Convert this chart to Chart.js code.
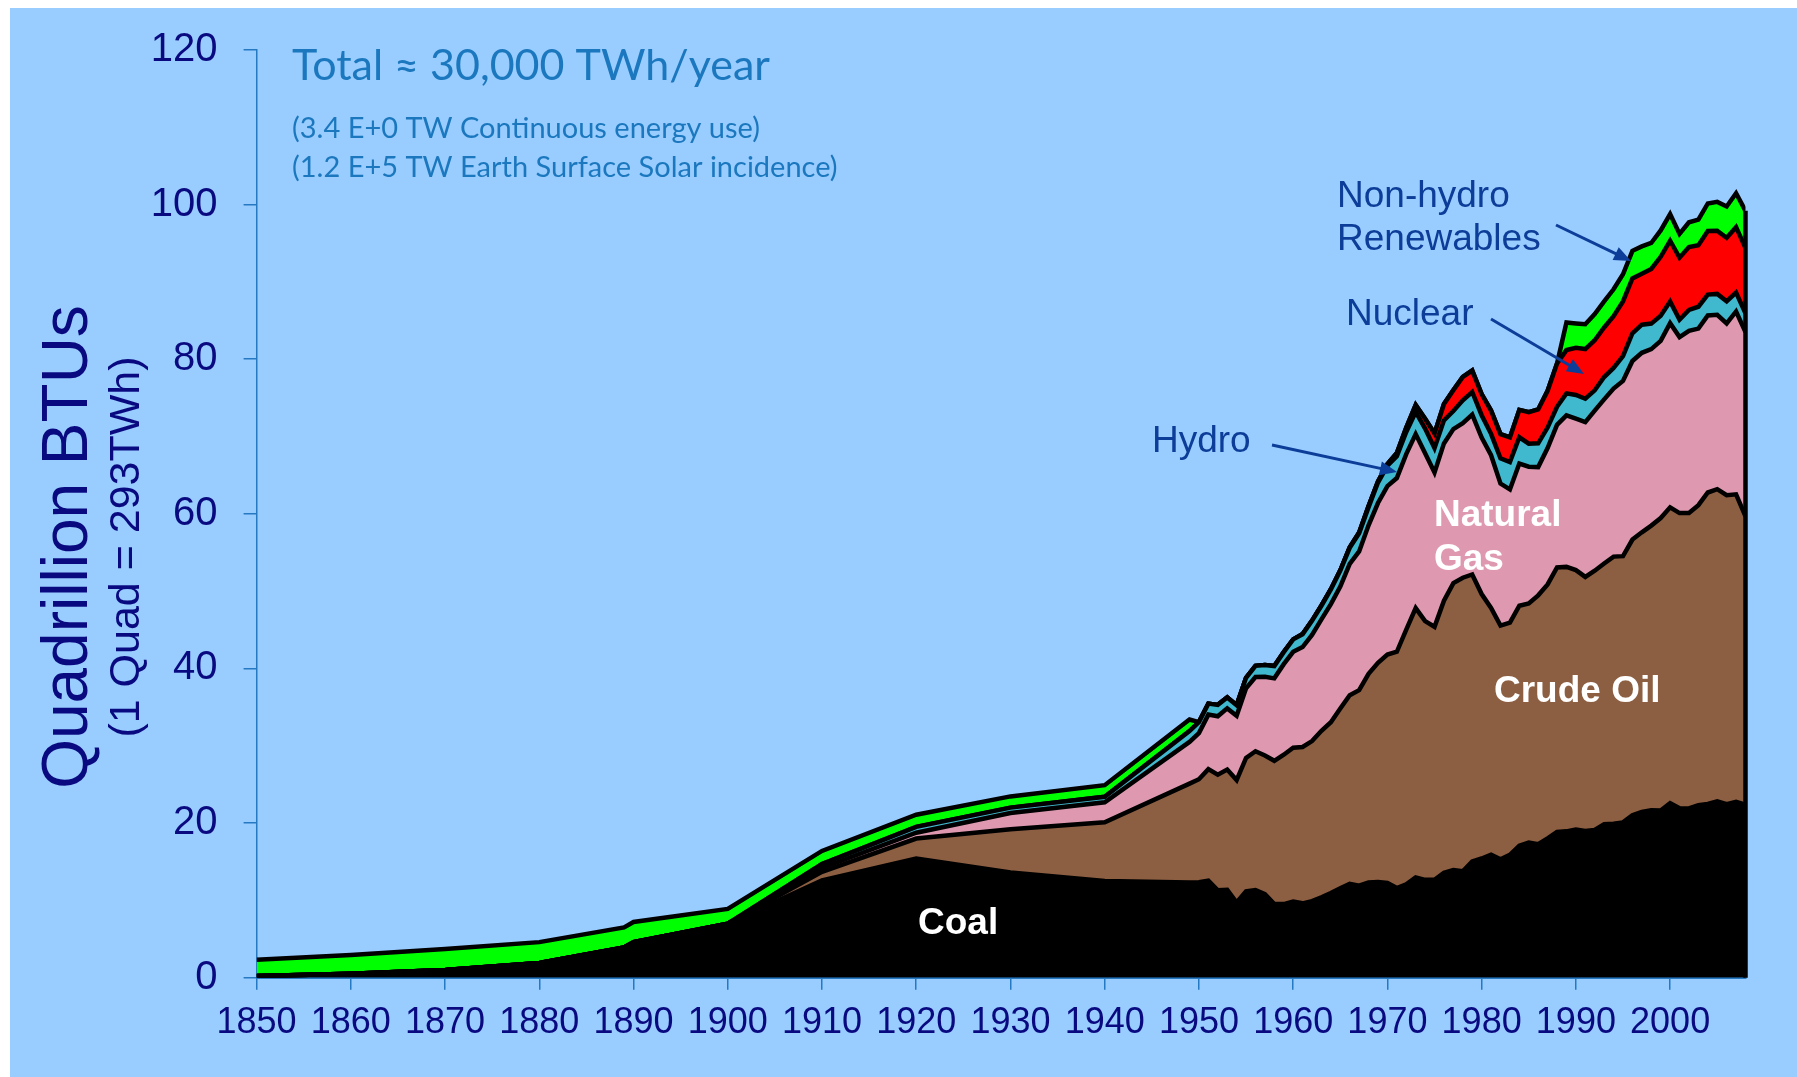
<!DOCTYPE html>
<html>
<head>
<meta charset="utf-8">
<script src="https://cdn.jsdelivr.net/npm/chart.js@4.4.1/dist/chart.umd.min.js"></script>
<style>
html, body { margin: 0; padding: 0; background: #fff; }
canvas { display: block; }
</style>
</head>
<body>
<canvas id="myChart" width="1797" height="1077"></canvas>
<script>
// years on the x axis (decades before 1949, yearly after)
const years = [1850, 1860, 1870, 1880, 1889, 1890, 1900, 1910, 1920, 1930, 1940, 1949,
  1950, 1951, 1952, 1953, 1954, 1955, 1956, 1957, 1958, 1959,
  1960, 1961, 1962, 1963, 1964, 1965, 1966, 1967, 1968, 1969,
  1970, 1971, 1972, 1973, 1974, 1975, 1976, 1977, 1978, 1979,
  1980, 1981, 1982, 1983, 1984, 1985, 1986, 1987, 1988, 1989,
  1990, 1991, 1992, 1993, 1994, 1995, 1996, 1997, 1998, 1999,
  2000, 2001, 2002, 2003, 2004, 2005, 2006, 2007, 2008];

// quadrillion BTU per source
const coal = [0.22, 0.5, 1.0, 1.9, 3.9, 4.6, 7.0, 12.6, 15.4, 13.6, 12.5, 12.3,
  12.35, 12.55, 11.31, 11.37, 9.72, 11.17, 11.35, 10.82, 9.53, 9.52,
  9.84, 9.62, 9.91, 10.41, 10.96, 11.58, 12.14, 11.91, 12.33, 12.38,
  12.27, 11.60, 12.08, 12.97, 12.66, 12.66, 13.58, 13.92, 13.77, 15.04,
  15.42, 15.91, 15.32, 15.89, 17.07, 17.48, 17.26, 18.01, 18.85, 18.93,
  19.17, 18.99, 19.12, 19.84, 19.91, 20.09, 21.00, 21.45, 21.66, 21.62,
  22.58, 21.91, 21.90, 22.32, 22.47, 22.80, 22.45, 22.75, 22.39];

const oil = [0, 0, 0, 0, 0, 0, 0, 1.1, 2.6, 5.6, 7.6, 12.8,
  13.32, 14.43, 14.96, 15.56, 15.84, 17.26, 17.94, 17.93, 18.53, 19.32,
  19.92, 20.22, 20.70, 21.53, 22.08, 23.25, 24.40, 25.28, 26.98, 28.34,
  29.52, 30.56, 32.95, 34.84, 33.46, 32.73, 35.18, 37.12, 37.97, 37.12,
  34.20, 31.93, 30.23, 30.05, 31.05, 30.92, 32.20, 32.87, 34.22, 34.21,
  33.55, 32.85, 33.53, 33.74, 34.56, 34.44, 35.68, 36.16, 36.82, 37.84,
  38.26, 38.19, 38.22, 38.81, 40.29, 40.39, 39.96, 39.77, 37.28];

const gas = [0, 0, 0, 0, 0, 0, 0, 0.5, 0.75, 2.1, 2.6, 5.4,
  5.97, 7.05, 7.55, 7.91, 8.33, 9.00, 9.61, 10.19, 10.66, 11.72,
  12.39, 12.93, 13.73, 14.40, 15.29, 15.77, 17.00, 17.95, 19.21, 20.68,
  21.80, 22.47, 22.70, 22.51, 21.73, 19.95, 20.35, 19.93, 20.00, 20.67,
  20.24, 19.75, 18.36, 17.22, 18.39, 17.70, 16.59, 17.64, 18.45, 19.60,
  19.60, 20.03, 20.71, 21.23, 21.73, 22.67, 23.09, 23.22, 22.83, 22.91,
  23.82, 22.77, 23.56, 22.83, 22.91, 22.56, 22.22, 23.66, 23.83];

const hydro = [0, 0, 0, 0, 0, 0, 0, 0.5, 0.76, 0.7, 0.7, 1.4,
  1.42, 1.42, 1.47, 1.41, 1.36, 1.36, 1.44, 1.52, 1.59, 1.55,
  1.61, 1.66, 1.82, 1.77, 1.89, 2.06, 2.06, 2.35, 2.35, 2.65,
  2.63, 2.82, 2.86, 2.86, 3.18, 3.16, 2.98, 2.33, 2.94, 2.93,
  2.90, 2.76, 3.27, 3.53, 3.39, 2.97, 3.07, 2.64, 2.33, 2.84,
  3.05, 3.02, 2.62, 2.89, 2.68, 3.21, 3.59, 3.64, 3.30, 3.27,
  2.81, 2.24, 2.69, 2.83, 2.69, 2.70, 2.87, 2.45, 2.45];

const nuclear = [0, 0, 0, 0, 0, 0, 0, 0, 0, 0, 0, 0,
  0, 0, 0, 0, 0, 0, 0, 0, 0.002, 0.002,
  0.006, 0.02, 0.026, 0.038, 0.04, 0.043, 0.064, 0.088, 0.142, 0.154,
  0.239, 0.413, 0.584, 0.910, 1.272, 1.900, 2.111, 2.702, 3.024, 2.776,
  2.739, 3.008, 3.131, 3.203, 3.553, 4.076, 4.380, 4.754, 5.587, 5.602,
  6.104, 6.422, 6.479, 6.410, 6.694, 7.075, 7.087, 6.597, 7.068, 7.610,
  7.862, 8.029, 8.145, 7.959, 8.222, 8.161, 8.215, 8.455, 8.427];

const renewables = [2.1, 2.45, 2.7, 2.7, 2.6, 2.6, 1.9, 1.7, 1.57, 1.45, 1.5, 1.5,
  0, 0, 0, 0, 0, 0, 0, 0, 0, 0,
  0, 0, 0, 0, 0, 0, 0, 0, 0, 0,
  0, 0, 0, 0, 0, 0, 0, 0, 0, 0,
  0, 0, 0, 0, 0, 0, 0, 0, 0, 3.58,
  3.16, 3.22, 3.38, 3.37, 3.47, 3.50, 3.58, 3.53, 3.36, 3.41,
  3.45, 3.07, 3.20, 3.32, 3.57, 3.74, 4.05, 4.39, 4.82];

const xTicks = [1850, 1860, 1870, 1880, 1890, 1900, 1910, 1920, 1930, 1940, 1950, 1960, 1970, 1980, 1990, 2000];

const AXIS_BLUE = '#2479C2';
const NAVY = '#0A0A80';
const NOTE_BLUE = '#0C3D98';

function area(label, values, color, fill) {
  return {
    label: label,
    data: values,
    backgroundColor: color,
    borderColor: '#000000',
    borderWidth: 4.5,
    borderJoinStyle: 'miter',
    pointRadius: 0,
    tension: 0,
    fill: fill
  };
}

function arrow(ctx, x1, y1, x2, y2) {
  const a = Math.atan2(y2 - y1, x2 - x1);
  const len = 17, half = 7;
  ctx.beginPath();
  ctx.moveTo(x1, y1);
  ctx.lineTo(x2 - len * 0.8 * Math.cos(a), y2 - len * 0.8 * Math.sin(a));
  ctx.stroke();
  ctx.beginPath();
  ctx.moveTo(x2, y2);
  ctx.lineTo(x2 - len * Math.cos(a) + half * Math.sin(a), y2 - len * Math.sin(a) - half * Math.cos(a));
  ctx.lineTo(x2 - len * Math.cos(a) - half * Math.sin(a), y2 - len * Math.sin(a) + half * Math.cos(a));
  ctx.closePath();
  ctx.fill();
}

const decor = {
  id: 'decor',
  beforeDraw(chart) {
    const ctx = chart.ctx;
    ctx.save();
    ctx.fillStyle = '#ffffff';
    ctx.fillRect(0, 0, chart.width, chart.height);
    ctx.fillStyle = '#99CCFF';
    ctx.fillRect(10, 8, chart.width - 10, chart.height - 8);
    ctx.restore();
  },
  afterDatasetsDraw(chart) {
    const ctx = chart.ctx;
    const x = chart.scales.x, y = chart.scales.y;
    const last = years.length - 1;
    const total = coal[last] + oil[last] + gas[last] + hydro[last] + nuclear[last] + renewables[last];
    const xe = x.getPixelForValue(years[last]);

    ctx.save();
    // closing edge of the stacked areas
    ctx.strokeStyle = '#000000';
    ctx.lineWidth = 4.5;
    ctx.beginPath();
    ctx.moveTo(xe, y.getPixelForValue(total));
    ctx.lineTo(xe, y.getPixelForValue(0));
    ctx.stroke();

    // labels inside the areas
    ctx.fillStyle = '#ffffff';
    ctx.font = 'bold 37px "Liberation Sans", Arial, sans-serif';
    ctx.textBaseline = 'alphabetic';
    ctx.textAlign = 'left';
    ctx.fillText('Coal', 918, 934);
    ctx.fillText('Natural', 1434, 526);
    ctx.fillText('Gas', 1434, 570);
    ctx.fillText('Crude Oil', 1494, 702);

    // callouts
    ctx.fillStyle = NOTE_BLUE;
    ctx.strokeStyle = NOTE_BLUE;
    ctx.font = '37px "Liberation Sans", Arial, sans-serif';
    ctx.fillText('Non-hydro', 1337, 207);
    ctx.fillText('Renewables', 1337, 250);
    ctx.fillText('Nuclear', 1346, 325);
    ctx.fillText('Hydro', 1152, 452);
    ctx.lineWidth = 3;
    arrow(ctx, 1556, 225, 1631, 261);
    arrow(ctx, 1491, 319, 1584, 374);
    arrow(ctx, 1272, 445, 1397, 472);

    // headline notes
    ctx.fillStyle = '#1B78BE';
    ctx.font = '43px Lato, "Open Sans", sans-serif';
    ctx.fillText('Total \u2248 30,000 TWh/year', 292, 80);
    ctx.font = '29px Lato, "Open Sans", sans-serif';
    ctx.fillText('(3.4 E+0 TW Continuous energy use)', 292, 138);
    ctx.fillText('(1.2 E+5 TW Earth Surface Solar incidence)', 292, 177);

    // y axis titles
    ctx.fillStyle = NAVY;
    ctx.textAlign = 'center';
    ctx.translate(87, 547);
    ctx.rotate(-Math.PI / 2);
    ctx.font = '64px "Liberation Sans", Arial, sans-serif';
    ctx.fillText('Quadrillion BTUs', 0, 0);
    ctx.font = '43px "Liberation Sans", Arial, sans-serif';
    ctx.fillText('(1 Quad = 293TWh)', 0, 52);
    ctx.restore();
  }
};

const config = {
  type: 'line',
  data: {
    labels: years,
    datasets: [
      area('Coal', coal, '#000000', 'origin'),
      area('Crude Oil', oil, '#8C5E42', '-1'),
      area('Natural Gas', gas, '#DE99B1', '-1'),
      area('Hydro', hydro, '#40B8CD', '-1'),
      area('Nuclear', nuclear, '#FF0000', '-1'),
      area('Non-hydro Renewables', renewables, '#00FF00', '-1')
    ]
  },
  options: {
    responsive: false,
    animation: false,
    devicePixelRatio: 1,
    layout: { padding: { left: 0, top: 49.3, right: 51.5, bottom: 0 } },
    plugins: { legend: { display: false }, tooltip: { enabled: false } },
    scales: {
      x: {
        type: 'linear',
        min: 1850,
        max: 2008,
        afterBuildTicks: (axis) => { axis.ticks = xTicks.map(v => ({ value: v })); },
        afterFit: (axis) => { axis.height = 99.3; },
        grid: { drawOnChartArea: false, drawTicks: true, tickLength: 12, color: AXIS_BLUE, lineWidth: 1.5 },
        border: { display: true, color: AXIS_BLUE, width: 2 },
        ticks: {
          autoSkip: false,
          maxRotation: 0,
          padding: 12,
          color: NAVY,
          font: { family: '"Liberation Sans", Arial, sans-serif', size: 36 },
          callback: (v) => String(v)
        }
      },
      y: {
        stacked: true,
        min: 0,
        max: 120,
        afterFit: (axis) => { axis.width = 256.6; },
        grid: { drawOnChartArea: false, drawTicks: true, tickLength: 13, color: AXIS_BLUE, lineWidth: 1.5 },
        border: { display: true, color: AXIS_BLUE, width: 1.5 },
        ticks: {
          stepSize: 20,
          padding: 26,
          color: NAVY,
          font: { family: '"Liberation Sans", Arial, sans-serif', size: 40 }
        }
      }
    }
  },
  plugins: [decor]
};

const myChart = new Chart(document.getElementById('myChart'), config);
</script>
</body>
</html>
